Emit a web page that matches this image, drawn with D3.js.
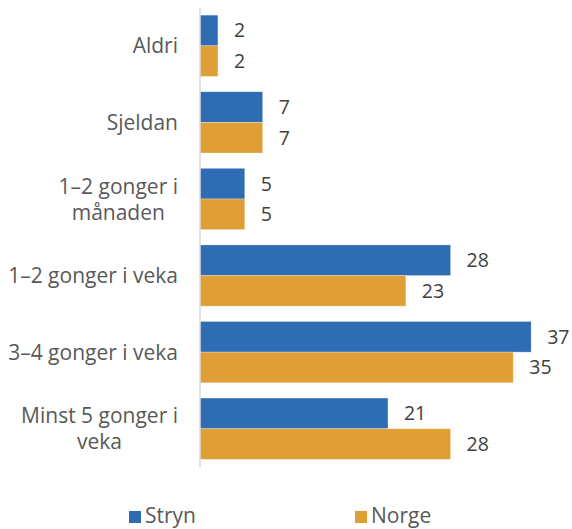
<!DOCTYPE html>
<html>
<head>
<meta charset="utf-8">
<script src="https://cdn.jsdelivr.net/npm/d3@7"></script>
<style>
  html, body { margin: 0; padding: 0; background: #fff; }
  svg { display: block; }
  text { font-family: "Open Sans", Roboto, sans-serif; }
</style>
</head>
<body>
<svg id="chart" width="572" height="529"></svg>
<script>
// Categories (each label split into its display lines)
const categories = [
  ["Aldri"],
  ["Sjeldan"],
  ["1–2 gonger i", "månaden"],
  ["1–2 gonger i veka"],
  ["3–4 gonger i veka"],
  ["Minst 5 gonger i", "veka"]
];
const seriesNames = ["Stryn", "Norge"];
const stryn = [2, 7, 5, 28, 37, 21];
const norge = [2, 7, 5, 23, 35, 28];
const seriesColors = ["#2e6db4", "#e09e37"];

const svg = d3.select("#chart");
const W = 572, H = 529;
const margin = { top: 7.5, bottom: 62, left: 200, right: 14 };
const labelSize = 21;
const valueSize = 19.5;
const textColor = "#595959";

const keys = categories.map((c, i) => i);
const y0 = d3.scaleBand()
  .domain(keys)
  .range([margin.top, H - margin.bottom])
  .paddingInner(0.2)
  .paddingOuter(0.1);

const y1 = d3.scaleBand()
  .domain([0, 1])
  .range([0, y0.bandwidth()]);

const x = d3.scaleLinear()
  .domain([0, 40])
  .range([margin.left, margin.left + 358]);

const series = [stryn, norge];

// Bars
const groups = svg.append("g")
  .selectAll("g")
  .data(keys)
  .join("g")
  .attr("transform", i => `translate(0,${y0(i)})`);

groups.selectAll("rect")
  .data(i => series.map((s, j) => ({ j, v: s[i] })))
  .join("rect")
  .attr("x", x(0))
  .attr("y", d => y1(d.j))
  .attr("width", d => x(d.v) - x(0))
  .attr("height", y1.bandwidth())
  .attr("fill", d => seriesColors[d.j])
  .attr("stroke", "#ffffff")
  .attr("stroke-opacity", 0.35)
  .attr("stroke-width", 0.75);

// Value labels
groups.selectAll("text.val")
  .data(i => series.map((s, j) => ({ j, v: s[i] })))
  .join("text")
  .attr("class", "val")
  .attr("x", d => x(d.v) + 16)
  .attr("y", d => y1(d.j) + y1.bandwidth() / 2)
  .attr("dy", "0.36em")
  .attr("font-size", valueSize)
  .attr("fill", "#404040")
  .text(d => d.v);

// Category axis
const axis = d3.axisLeft(y0).tickSize(0).tickFormat("");
const axisG = svg.append("g")
  .attr("transform", `translate(${x(0)},0)`)
  .call(axis);
axisG.select(".domain")
  .attr("stroke", "#d9d9d9")
  .attr("stroke-width", 1.5)
  .attr("d", `M0,${margin.top}V${H - margin.bottom}`);

// Category labels, multi-line ones centred within a right-aligned block
const lineH = 26;
const labelRight = 178;
const labels = svg.append("g");
keys.forEach(i => {
  const lines = categories[i];
  const cy = y0(i) + y0.bandwidth() / 2;
  const t = labels.append("text")
    .attr("font-size", labelSize)
    .attr("fill", textColor);
  lines.forEach((ln, k) => {
    t.append("tspan")
      .attr("y", cy + (k - (lines.length - 1) / 2) * lineH)
      .attr("dy", "0.36em")
      .text(ln);
  });
  // measure widest line and position the block
  const spans = t.selectAll("tspan").nodes();
  const widths = spans.map(s => s.getComputedTextLength());
  const maxW = d3.max(widths);
  const centre = labelRight - maxW / 2;
  t.selectAll("tspan")
    .attr("x", centre)
    .attr("text-anchor", "middle");
});

// Legend
const legend = svg.append("g").attr("transform", `translate(0,${517})`);
const legendX = [129, 355];
seriesNames.forEach((name, j) => {
  legend.append("rect")
    .attr("x", legendX[j])
    .attr("y", -6)
    .attr("width", 12)
    .attr("height", 12)
    .attr("fill", seriesColors[j]);
  legend.append("text")
    .attr("x", legendX[j] + 16)
    .attr("y", -1.5)
    .attr("dy", "0.36em")
    .attr("font-size", labelSize)
    .attr("fill", textColor)
    .text(name);
});
</script>
</body>
</html>
